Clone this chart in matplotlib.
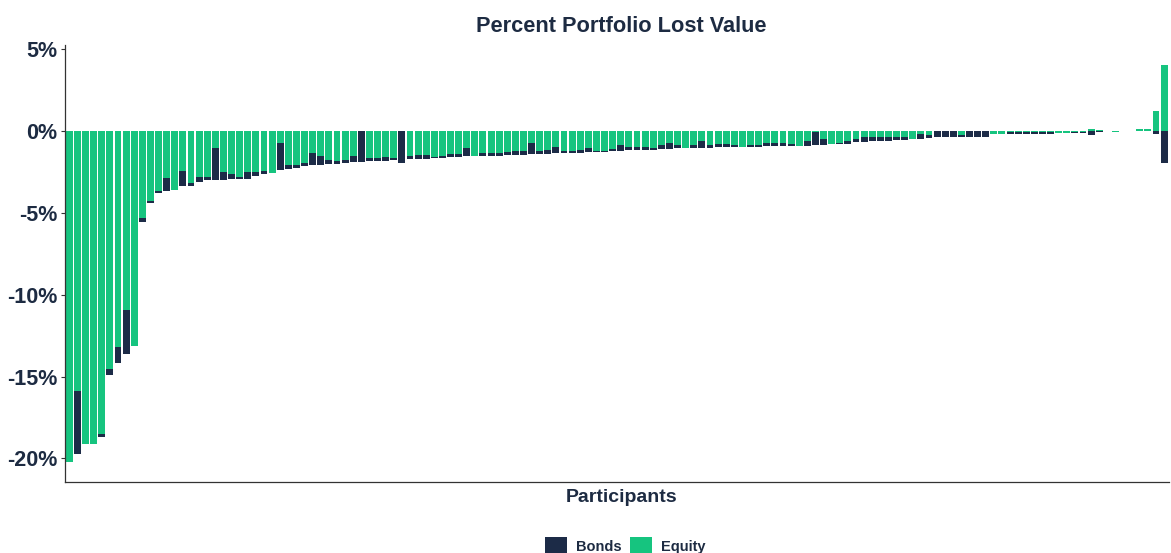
import numpy as np
import matplotlib.pyplot as plt
from matplotlib.patches import Patch

plt.rcParams['font.family'] = ['Liberation Sans', 'DejaVu Sans']
plt.rcParams['font.weight'] = 'bold'

# change in portfolio value per participant (%), sorted by size of the loss
total = [
    -20.25, -19.75, -19.1, -19.1, -18.7, -14.9, -14.2, -13.6, -13.15, -5.55,
    -4.4, -3.77, -3.65, -3.6, -3.36, -3.36, -3.14, -3.0, -2.99, -2.99,
    -2.95, -2.9, -2.9, -2.75, -2.62, -2.55, -2.4, -2.3, -2.26, -2.15,
    -2.05, -2.05, -2.0, -2.0, -1.95, -1.9, -1.89, -1.85, -1.83, -1.8,
    -1.79, -1.96, -1.73, -1.69, -1.7, -1.65, -1.63, -1.6, -1.59, -1.55,
    -1.52, -1.5, -1.5, -1.5, -1.48, -1.46, -1.44, -1.38, -1.38, -1.38,
    -1.36, -1.34, -1.34, -1.32, -1.3, -1.28, -1.28, -1.22, -1.2, -1.18,
    -1.18, -1.16, -1.14, -1.08, -1.08, -1.04, -1.05, -1.04, -1.04, -1.02,
    -1.0, -0.98, -0.98, -0.96, -0.96, -0.95, -0.94, -0.92, -0.92, -0.9,
    -0.9, -0.9, -0.84, -0.83, -0.82, -0.8, -0.78, -0.67, -0.67, -0.63,
    -0.6, -0.59, -0.55, -0.55, -0.5, -0.5, -0.4, -0.39, -0.39, -0.37,
    -0.37, -0.37, -0.35, -0.35, -0.2, -0.2, -0.2, -0.18, -0.18, -0.16,
    -0.16, -0.16, -0.12, -0.12, -0.12, -0.12, -0.08, -0.02, 0.0, -0.03,
    -0.02, 0.0, 0.1, 0.1, 1.04, 2.05,
]

# part of that change coming from bonds (%)
bonds = [
    0.0, -3.85, 0.0, 0.0, -0.2, -0.35, -1.0, -2.65, 0.0, -0.25,
    -0.15, -0.1, -0.8, 0.0, -0.9, -0.2, -0.35, -0.2, -1.93, -0.47,
    -0.3, -0.1, -0.4, -0.26, -0.15, 0.0, -1.68, -0.24, -0.2, -0.22,
    -0.7, -0.5, -0.26, -0.14, -0.2, -0.36, -1.89, -0.2, -0.2, -0.22,
    -0.14, -1.96, -0.2, -0.24, -0.25, -0.06, -0.08, -0.2, -0.16, -0.53,
    0.0, -0.14, -0.14, -0.18, -0.2, -0.22, -0.2, -0.65, -0.16, -0.24,
    -0.4, -0.14, -0.14, -0.18, -0.26, -0.06, -0.04, -0.1, -0.32, -0.18,
    -0.18, -0.18, -0.1, -0.2, -0.36, -0.16, 0.0, -0.16, -0.43, -0.18,
    -0.2, -0.2, -0.1, 0.0, -0.12, -0.12, -0.18, -0.18, -0.18, -0.1,
    0.0, -0.32, -0.78, -0.37, 0.0, -0.08, -0.18, -0.16, -0.28, -0.24,
    -0.22, -0.24, -0.2, -0.16, 0.0, -0.3, -0.14, -0.39, -0.39, -0.37,
    -0.1, -0.37, -0.35, -0.35, 0.0, 0.0, -0.12, -0.14, -0.14, -0.12,
    -0.12, -0.1, 0.0, 0.0, -0.08, -0.08, -0.22, -0.06, 0.0, 0.0,
    0.0, 0.0, 0.0, 0.0, -0.2, -1.97,
]

y_ticks = [5, 0, -5, -10, -15, -20]

BOND_COL = '#1c2b47'
EQUITY_COL = '#16c47f'
TEXT_COL = '#1d2b42'

total = np.array(total)
bonds = np.array(bonds)
equity = total - bonds
x = np.arange(1, len(total) + 1)

# stack like ggplot: negatives pile downward, positives upward
bond_base = np.where(bonds < 0, np.minimum(equity, 0), np.maximum(equity, 0))

fig = plt.figure(figsize=(11.71, 5.53), dpi=100)
ax = fig.add_axes([64.5 / 1171, (553 - 482.3) / 553, (1169 - 64.5) / 1171, (482.3 - 45.4) / 553])

ax.bar(x, equity, width=0.85, color=EQUITY_COL, linewidth=0)
ax.bar(x, bonds, width=0.85, bottom=bond_base, color=BOND_COL, linewidth=0)

lo = min(total.min(), (equity + np.minimum(bonds, 0)).min())
hi = max(equity.max(), 0)
pad = (hi - lo) * 0.05
ax.set_ylim(lo - pad, hi + pad)
ax.set_xlim(0.4, len(total) + 0.6)

ax.set_yticks(y_ticks)
ax.set_yticklabels([f'{t}%' for t in y_ticks])
ax.set_xticks([])
ax.tick_params(axis='y', length=3, width=0.8, color='#333333', labelsize=15.5,
               labelcolor=TEXT_COL, pad=2)
for lab in ax.get_yticklabels():
    lab.set_fontweight('bold')

for side in ('top', 'right'):
    ax.spines[side].set_visible(False)
for side in ('left', 'bottom'):
    ax.spines[side].set_color('#333333')
    ax.spines[side].set_linewidth(0.9)

ax.set_title('Percent Portfolio Lost Value', fontsize=15.7, fontweight='bold',
             color=TEXT_COL, pad=9.5, x=0.504)
ax.set_xlabel('Participants', fontsize=14, fontweight='bold', color=TEXT_COL,
              labelpad=5)
ax.xaxis.label.set_x(0.504)

handles = [Patch(facecolor=BOND_COL, label='Bonds'),
           Patch(facecolor=EQUITY_COL, label='Equity')]
fig.legend(handles=handles, loc='center', bbox_to_anchor=(0.534, 0.013), ncol=2,
           frameon=False, handlelength=1.5, handleheight=1.5, handletextpad=0.6,
           columnspacing=0.6, prop={'weight': 'bold', 'size': 10.5},
           labelcolor=TEXT_COL)

fig.savefig('out.png', dpi=100)
